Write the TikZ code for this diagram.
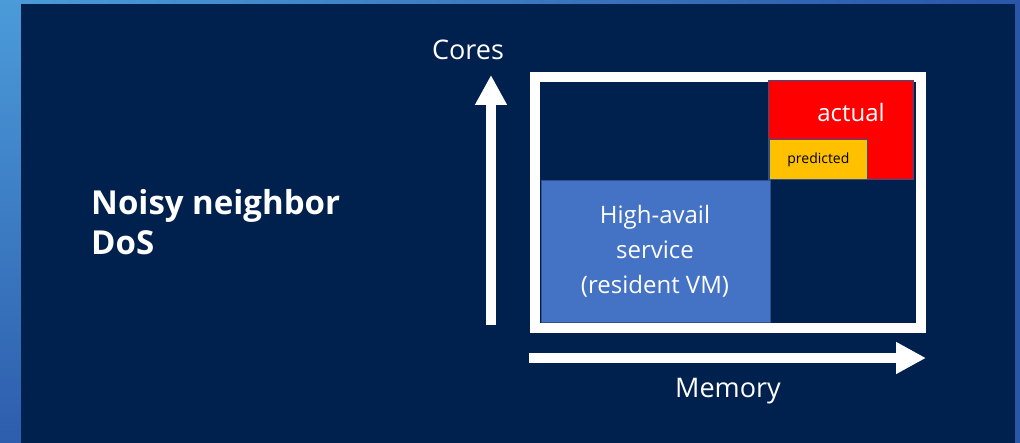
\documentclass[tikz,border=0pt]{standalone}
\usepackage{fontspec}
\setmainfont{Open Sans}
\usepackage{tikz}
\usetikzlibrary{arrows.meta}
\definecolor{navy}{HTML}{00204E}
\definecolor{skyblue}{HTML}{4B9BD9}
\definecolor{edgeblue}{HTML}{2A56A8}
\definecolor{boxblue}{HTML}{4472C4}
\definecolor{boxline}{HTML}{2F528F}
\definecolor{predyellow}{HTML}{FFC000}
\tikzset{
  axis/.style={white, line width=10pt, -{Triangle[length=30pt,width=30pt]}},
  area/.style={draw=boxline, line width=0.8pt, inner sep=0pt, anchor=north west},
  txt/.style={text=white, inner sep=0pt},
}

\begin{document}
\begin{tikzpicture}[x=1pt,y=-1pt]
    \useasboundingbox (0,0) rectangle (1020,443);
    \shade[left color=skyblue, right color=edgeblue] (0,0) rectangle (1020,443);
    \shade[top color=skyblue, bottom color=edgeblue!90!skyblue] (0,0) rectangle (21,443);
    \fill[navy] (21,4) rectangle (1015,443);
    \node[txt, anchor=west, align=left, font=\bfseries\fontsize{33}{40}\selectfont] (title) at (91,222) {Noisy neighbor\\DoS};
    \coordinate (ybot) at (491,325);
    \coordinate (ytop) at (491,75);
    \coordinate (xleft) at (529,358);
    \coordinate (xright) at (926,358);
    \draw[axis] (ybot) -- (ytop);
    \draw[axis] (xleft) -- (xright);
    \node[txt, font=\fontsize{27}{32}\selectfont] (cores) at (468,50) {Cores};
    \node[txt, font=\fontsize{27}{32}\selectfont] (memory) at (728,391) {Memory};
    \draw[white, line width=10pt] (535,77) rectangle (921,328);
    \node[area, fill=boxblue, minimum width=229pt, minimum height=142pt] (resident) at (541,180) {};
    \node[txt, align=center, font=\fontsize{24}{35}\selectfont] (residentlbl) at (655,251) {High-avail\\service\\(resident VM)};
    \node[area, fill=red, minimum width=145pt, minimum height=99pt] (actual) at (768,80) {};
    \node[txt, font=\fontsize{24}{28}\selectfont] (actuallbl) at (851,113) {actual};
    \node[area, fill=predyellow, minimum width=98pt, minimum height=40pt] (predicted) at (769,139) {};
    \node[inner sep=0pt, font=\fontsize{14}{16}\selectfont] (predictedlbl) at (predicted.center) {predicted};
\end{tikzpicture}
\end{document}
